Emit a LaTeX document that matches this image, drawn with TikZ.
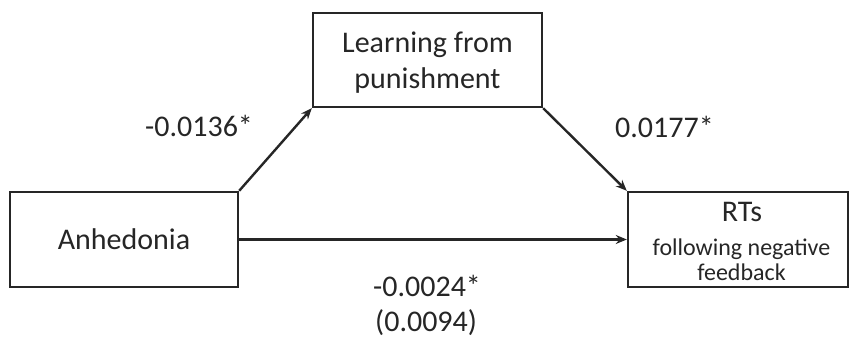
\documentclass[tikz,border=0pt]{standalone}
\usepackage{fontspec}
\setmainfont{Carlito}
\usetikzlibrary{arrows.meta}
\begin{document}
\begin{tikzpicture}[x=1pt,y=-1pt,
  box/.style={draw=black!85, line width=2.4pt, rectangle, inner sep=0pt},
  link/.style={draw=black!85, line width=2.4pt, -{Stealth[length=11pt,width=9pt]}},
  lbl/.style={text=black!85, font=\fontsize{30}{36}\selectfont, inner sep=0pt, anchor=base},
  small/.style={text=black!85, font=\fontsize{24}{25}\selectfont, inner sep=0pt, anchor=base}]
  \useasboundingbox (0,0) rectangle (849,339);
  % variable boxes
  \node[box, minimum width=228pt, minimum height=95pt] (anh) at (124,239.5) {};
  \node[box, minimum width=229pt, minimum height=94pt] (lfp) at (427.5,60) {};
  \node[box, minimum width=220pt, minimum height=95pt] (rts) at (738,239.5) {};
  % box texts
  \node[lbl] (anht) at (124,250) {Anhedonia};
  \node[lbl] (lfpa) at (427.5,53) {Learning from};
  \node[lbl] (lfpb) at (427.5,89) {punishment};
  \node[lbl] (rtsa) at (742,222) {RTs};
  \node[small] (rtsb) at (741.5,255) {following negative};
  \node[small] (rtsc) at (741.5,280) {feedback};
  % paths
  \draw[link] (anh.north east) -- (lfp.south west);
  \draw[link] (lfp.south east) -- (rts.north west);
  \draw[link] (anh.east) -- (rts.west);
  % coefficients
  \node[lbl, anchor=base west] (a) at (145,137) {-0.0136*};
  \node[lbl, anchor=base west] (b) at (615,138) {0.0177*};
  \node[lbl, anchor=base west] (c) at (373,296) {-0.0024*};
  \node[lbl, anchor=base west] (cp) at (375,331) {(0.0094)};
\end{tikzpicture}
\end{document}
